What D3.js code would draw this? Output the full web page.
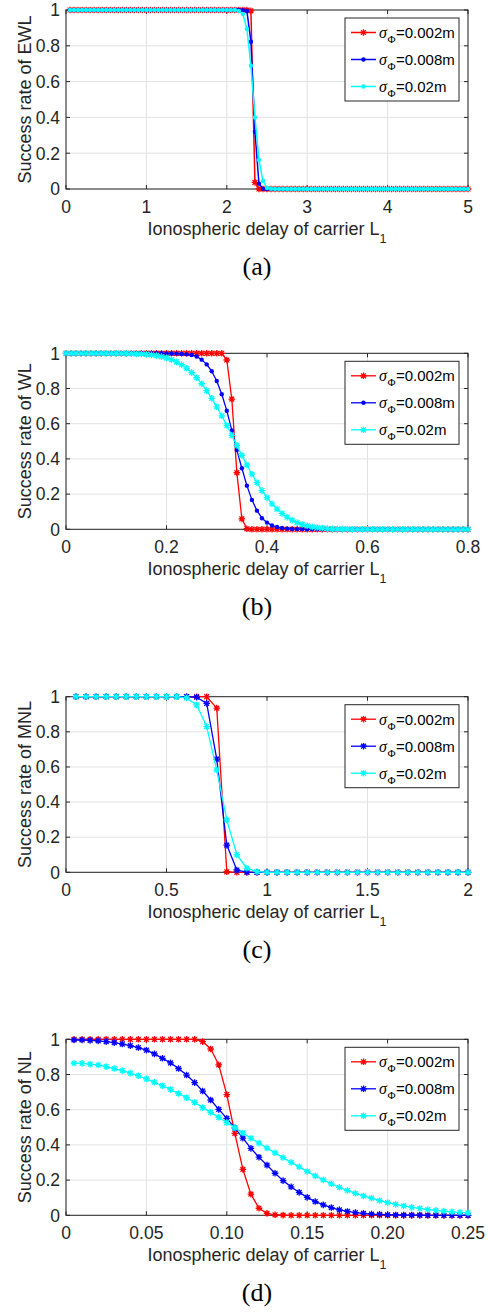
<!DOCTYPE html>
<html><head><meta charset="utf-8">
<script src="https://cdn.jsdelivr.net/npm/d3@7"></script>
<style>body{margin:0;background:#fff}svg{display:block}</style>
</head><body>
<svg id="chart" width="488" height="1312"></svg>
<script>
// ---------- Panel (a): EWL ----------
const xA = [0.05,0.10,0.15,0.20,0.25,0.30,0.35,0.40,0.45,0.50,
0.55,0.60,0.65,0.70,0.75,0.80,0.85,0.90,0.95,1.00,
1.05,1.10,1.15,1.20,1.25,1.30,1.35,1.40,1.45,1.50,
1.55,1.60,1.65,1.70,1.75,1.80,1.85,1.90,1.95,2.00,
2.05,2.10,2.15,2.20,2.25,2.30,2.35,2.40,2.45,2.50,
2.55,2.60,2.65,2.70,2.75,2.80,2.85,2.90,2.95,3.00,
3.05,3.10,3.15,3.20,3.25,3.30,3.35,3.40,3.45,3.50,
3.55,3.60,3.65,3.70,3.75,3.80,3.85,3.90,3.95,4.00,
4.05,4.10,4.15,4.20,4.25,4.30,4.35,4.40,4.45,4.50,
4.55,4.60,4.65,4.70,4.75,4.80,4.85,4.90,4.95,5.00];
const redA = [1,1,1,1,1,1,1,1,1,1, 1,1,1,1,1,1,1,1,1,1, 1,1,1,1,1,1,1,1,1,1, 1,1,1,1,1,1,1,1,1,1,
1,1,1,1,1,0.995,0.037,0,0,0,
0,0,0,0,0,0,0,0,0,0, 0,0,0,0,0,0,0,0,0,0, 0,0,0,0,0,0,0,0,0,0, 0,0,0,0,0,0,0,0,0,0, 0,0,0,0,0,0,0,0,0,0];
const blueA = [1,1,1,1,1,1,1,1,1,1, 1,1,1,1,1,1,1,1,1,1, 1,1,1,1,1,1,1,1,1,1, 1,1,1,1,1,1,1,1,1,1,
1,1,1,0.999,0.994,0.823,0.32,0.03,0.001,0,
0,0,0,0,0,0,0,0,0,0, 0,0,0,0,0,0,0,0,0,0, 0,0,0,0,0,0,0,0,0,0, 0,0,0,0,0,0,0,0,0,0, 0,0,0,0,0,0,0,0,0,0];
const cyanA = [1,1,1,1,1,1,1,1,1,1, 1,1,1,1,1,1,1,1,1,1, 1,1,1,1,1,1,1,1,1,1, 1,1,1,1,1,1,1,1,1,1,
1,1,0.995,0.978,0.894,0.689,0.40,0.162,0.045,0.006,
0.001,0,0,0,0,0,0,0,0,0, 0,0,0,0,0,0,0,0,0,0, 0,0,0,0,0,0,0,0,0,0, 0,0,0,0,0,0,0,0,0,0, 0,0,0,0,0,0,0,0,0,0];
const xTicksA = [0,1,2,3,4,5];
const xTickLabelsA = ["0","1","2","3","4","5"];

// ---------- Panel (b): WL ----------
const xB = [0.00,0.01,0.02,0.03,0.04,0.05,0.06,0.07,0.08,0.09,
0.10,0.11,0.12,0.13,0.14,0.15,0.16,0.17,0.18,0.19,
0.20,0.21,0.22,0.23,0.24,0.25,0.26,0.27,0.28,0.29,
0.30,0.31,0.32,0.33,0.34,0.35,0.36,0.37,0.38,0.39,
0.40,0.41,0.42,0.43,0.44,0.45,0.46,0.47,0.48,0.49,
0.50,0.51,0.52,0.53,0.54,0.55,0.56,0.57,0.58,0.59,
0.60,0.61,0.62,0.63,0.64,0.65,0.66,0.67,0.68,0.69,
0.70,0.71,0.72,0.73,0.74,0.75,0.76,0.77,0.78,0.79,0.80];
const redB = [1,1,1,1,1,1,1,1,1,1, 1,1,1,1,1,1,1,1,1,1, 1,1,1,1,1,1,1,1,1,1,
1,1,0.962,0.74,0.322,0.059,0.003,0,0,0,
0,0,0,0,0,0,0,0,0,0, 0,0,0,0,0,0,0,0,0,0, 0,0,0,0,0,0,0,0,0,0, 0,0,0,0,0,0,0,0,0,0, 0];
const blueB = [1,1,1,1,1,1,1,1,1,1, 1,1,1,1,1,1,1,1,1,1,
0.999,0.999,0.998,0.996,0.994,0.99,0.982,0.964,0.937,0.898,
0.843,0.767,0.674,0.562,0.45,0.347,0.248,0.167,0.106,0.063,
0.038,0.022,0.013,0.007,0.004,0.002,0.001,0.001,0,0,
0,0,0,0,0,0,0,0,0,0, 0,0,0,0,0,0,0,0,0,0, 0,0,0,0,0,0,0,0,0,0, 0];
const cyanB = [1,1,1,1,1,1,1,1,1,1,
1,1,0.999,0.998,0.997,0.996,0.994,0.991,0.987,0.981,
0.974,0.964,0.951,0.935,0.915,0.89,0.861,0.827,0.788,0.744,
0.696,0.645,0.59,0.534,0.477,0.42,0.366,0.313,0.265,0.22,
0.18,0.145,0.115,0.09,0.069,0.052,0.038,0.028,0.02,0.014,
0.01,0.007,0.004,0.003,0.002,0.001,0.001,0,0,0,
0,0,0,0,0,0,0,0,0,0, 0,0,0,0,0,0,0,0,0,0, 0];
const xTicksB = [0,0.2,0.4,0.6,0.8];
const xTickLabelsB = ["0","0.2","0.4","0.6","0.8"];

// ---------- Panel (c): MNL ----------
const xC = [0.05,0.10,0.15,0.20,0.25,0.30,0.35,0.40,0.45,0.50,
0.55,0.60,0.65,0.70,0.75,0.80,0.85,0.90,0.95,1.00,
1.05,1.10,1.15,1.20,1.25,1.30,1.35,1.40,1.45,1.50,
1.55,1.60,1.65,1.70,1.75,1.80,1.85,1.90,1.95,2.00];
const redC = [1,1,1,1,1,1,1,1,1,1, 1,1,1,1,0.935,0.003,0,0,0,0, 0,0,0,0,0,0,0,0,0,0, 0,0,0,0,0,0,0,0,0,0];
const blueC = [1,1,1,1,1,1,1,1,1,1, 1,1,0.997,0.962,0.645,0.155,0.013,0.001,0,0, 0,0,0,0,0,0,0,0,0,0, 0,0,0,0,0,0,0,0,0,0];
const cyanC = [1,1,1,1,1,1,1,1,1,1, 1,0.993,0.953,0.83,0.583,0.298,0.1,0.023,0.004,0, 0,0,0,0,0,0,0,0,0,0, 0,0,0,0,0,0,0,0,0,0];
const xTicksC = [0,0.5,1,1.5,2];
const xTickLabelsC = ["0","0.5","1","1.5","2"];

// ---------- Panel (d): NL ----------
const xD = [0.005,0.010,0.015,0.020,0.025,0.030,0.035,0.040,0.045,0.050,
0.055,0.060,0.065,0.070,0.075,0.080,0.085,0.090,0.095,0.100,
0.105,0.110,0.115,0.120,0.125,0.130,0.135,0.140,0.145,0.150,
0.155,0.160,0.165,0.170,0.175,0.180,0.185,0.190,0.195,0.200,
0.205,0.210,0.215,0.220,0.225,0.230,0.235,0.240,0.245,0.250];
const redD = [1,1,1,1,1,1,1,1,1,1,
1,1,1,1,1,1,0.987,0.945,0.855,0.686,
0.466,0.261,0.12,0.04,0.011,0.003,0.001,0,0,0,
0,0,0,0,0,0,0,0,0,0, 0,0,0,0,0,0,0,0,0,0];
const blueD = [0.996,0.996,0.994,0.991,0.987,0.981,0.973,0.964,0.953,0.938,
0.917,0.892,0.866,0.834,0.797,0.754,0.706,0.655,0.602,0.551,
0.497,0.438,0.38,0.33,0.285,0.239,0.197,0.162,0.13,0.102,
0.078,0.059,0.044,0.031,0.022,0.015,0.011,0.007,0.005,0.003,
0.002,0.001,0.001,0.001,0,0,0,0,0,0];
const cyanD = [0.864,0.863,0.859,0.854,0.845,0.834,0.822,0.808,0.793,0.775,
0.756,0.736,0.715,0.692,0.668,0.641,0.612,0.585,0.557,0.527,
0.498,0.468,0.438,0.41,0.382,0.355,0.328,0.301,0.275,0.249,
0.224,0.201,0.179,0.159,0.141,0.125,0.11,0.097,0.084,0.072,
0.062,0.053,0.045,0.039,0.033,0.028,0.024,0.02,0.017,0.014];
const xTicksD = [0,0.05,0.10,0.15,0.20,0.25];
const xTickLabelsD = ["0","0.05","0.10","0.15","0.20","0.25"];

// ---------- shared ----------
const yTicks = [0,0.2,0.4,0.6,0.8,1];
const yTickLabels = ["0","0.2","0.4","0.6","0.8","1"];
const legendValues = ["=0.002m","=0.008m","=0.02m"];
const seriesColors = ["#ff0000","#0000ff","#00ffff"];

const panels = [
  {top:10,    bottom:189,    dom:[0,5],    xt:xTicksA, xl:xTickLabelsA, ylab:"Success rate of EWL", cap:"(a)", x:xA, ys:[redA,blueA,cyanA], mk:["*",".","."], lw:1.5},
  {top:353.3, bottom:529.3,  dom:[0,0.8],  xt:xTicksB, xl:xTickLabelsB, ylab:"Success rate of WL",  cap:"(b)", x:xB, ys:[redB,blueB,cyanB], mk:["*",".","*"], lw:1.3},
  {top:696.7, bottom:872.3,  dom:[0,2],    xt:xTicksC, xl:xTickLabelsC, ylab:"Success rate of MNL", cap:"(c)", x:xC, ys:[redC,blueC,cyanC], mk:["*","*","*"], lw:1.3},
  {top:1039.3,bottom:1215.3, dom:[0,0.25], xt:xTicksD, xl:xTickLabelsD, ylab:"Success rate of NL",  cap:"(d)", x:xD, ys:[redD,blueD,cyanD], mk:["*","*","*"], lw:1.3}
];

const svg = d3.select("#chart");
const L = 66, R = 468;
const AX = "#262626";
const SANS = "'Liberation Sans', Arial, Helvetica, sans-serif";
const SERIF = "'Liberation Serif', 'Times New Roman', serif";
const starPath = "M-3.3,0H3.3M0,-3.3V3.3M-2.4,-2.4L2.4,2.4M-2.4,2.4L2.4,-2.4";

function drawMarker(sel, type, color, cx, cy) {
  if (type === "*") {
    sel.append("path").attr("d", starPath).attr("transform", `translate(${cx},${cy})`)
      .attr("fill","none").attr("stroke", color).attr("stroke-width", 1.3);
  } else {
    sel.append("circle").attr("cx", cx).attr("cy", cy).attr("r", 2.2).attr("fill", color);
  }
}

panels.forEach(p => {
  const x = d3.scaleLinear().domain(p.dom).range([L, R]);
  const y = d3.scaleLinear().domain([0, 1]).range([p.bottom, p.top]);
  const g = svg.append("g");

  // grid
  g.selectAll(null).data(p.xt).join("line")
    .attr("x1", d => x(d)).attr("x2", d => x(d)).attr("y1", p.top).attr("y2", p.bottom)
    .attr("stroke", "#e2e2e2").attr("stroke-width", 1);
  g.selectAll(null).data(yTicks).join("line")
    .attr("x1", L).attr("x2", R).attr("y1", d => y(d)).attr("y2", d => y(d))
    .attr("stroke", "#e2e2e2").attr("stroke-width", 1);

  // box
  g.append("rect").attr("x", L).attr("y", p.top).attr("width", R - L).attr("height", p.bottom - p.top)
    .attr("fill", "none").attr("stroke", AX).attr("stroke-width", 1);

  // inward ticks on all sides
  const tl = 4;
  p.xt.forEach(v => {
    g.append("line").attr("x1", x(v)).attr("x2", x(v)).attr("y1", p.bottom).attr("y2", p.bottom - tl).attr("stroke", AX);
    g.append("line").attr("x1", x(v)).attr("x2", x(v)).attr("y1", p.top).attr("y2", p.top + tl).attr("stroke", AX);
  });
  yTicks.forEach(v => {
    g.append("line").attr("x1", L).attr("x2", L + tl).attr("y1", y(v)).attr("y2", y(v)).attr("stroke", AX);
    g.append("line").attr("x1", R).attr("x2", R - tl).attr("y1", y(v)).attr("y2", y(v)).attr("stroke", AX);
  });

  // tick labels
  g.selectAll(null).data(p.xt).join("text")
    .attr("x", d => x(d)).attr("y", p.bottom + 24)
    .attr("text-anchor", "middle").attr("font-family", SANS).attr("font-size", 17.5).attr("fill", AX)
    .text((d, i) => p.xl[i]);
  g.selectAll(null).data(yTicks).join("text")
    .attr("x", 60).attr("y", d => y(d)).attr("dy", "0.36em")
    .attr("text-anchor", "end").attr("font-family", SANS).attr("font-size", 17.5).attr("fill", AX)
    .text((d, i) => yTickLabels[i]);

  // axis labels
  g.append("text")
    .attr("transform", `translate(31,${(p.top + p.bottom) / 2}) rotate(-90)`)
    .attr("text-anchor", "middle").attr("font-family", SANS).attr("font-size", 18).attr("fill", AX)
    .text(p.ylab);
  const xlab = g.append("text")
    .attr("x", (L + R) / 2).attr("y", p.bottom + 46)
    .attr("text-anchor", "middle").attr("font-family", SANS).attr("font-size", 18).attr("fill", AX);
  xlab.append("tspan").text("Ionospheric delay of carrier L");
  xlab.append("tspan").attr("font-size", 12.5).attr("dy", 8).text("1");

  // caption
  g.append("text").attr("x", 257).attr("y", p.bottom + 86)
    .attr("text-anchor", "middle").attr("font-family", SERIF).attr("font-size", 26).attr("fill", "#000")
    .text(p.cap);

  // series
  const line = d3.line().x(d => x(d[0])).y(d => y(d[1]));
  p.ys.forEach((vals, k) => {
    const pts = p.x.map((xv, i) => [xv, vals[i]]);
    const sg = g.append("g");
    sg.append("path").datum(pts).attr("d", line).attr("fill", "none")
      .attr("stroke", seriesColors[k]).attr("stroke-width", p.lw).attr("stroke-linejoin", "round");
    pts.forEach(d => drawMarker(sg, p.mk[k], seriesColors[k], x(d[0]), y(d[1])));
  });

  // legend
  const lt = p.top + 8;
  const lg = g.append("g");
  lg.append("rect").attr("x", 345).attr("y", lt).attr("width", 114).attr("height", 83)
    .attr("fill", "#fff").attr("stroke", AX).attr("stroke-width", 1);
  legendValues.forEach((lab, k) => {
    const cy = lt + 14.5 + k * 27;
    lg.append("line").attr("x1", 351).attr("x2", 376).attr("y1", cy).attr("y2", cy)
      .attr("stroke", seriesColors[k]).attr("stroke-width", p.lw);
    drawMarker(lg, p.mk[k], seriesColors[k], 363.5, cy);
    const t = lg.append("text").attr("x", 379).attr("y", cy + 5.3).attr("fill", "#000");
    t.append("tspan").attr("font-family", SERIF).attr("font-style", "italic").attr("font-size", 16).text("σ");
    t.append("tspan").attr("font-family", SERIF).attr("font-size", 11).attr("dy", 5).attr("dx", 0.5).text("Φ");
    t.append("tspan").attr("font-family", SANS).attr("font-size", 15).attr("dy", -5).attr("dx", 0.5).text(lab);
  });
});
</script>
</body></html>
